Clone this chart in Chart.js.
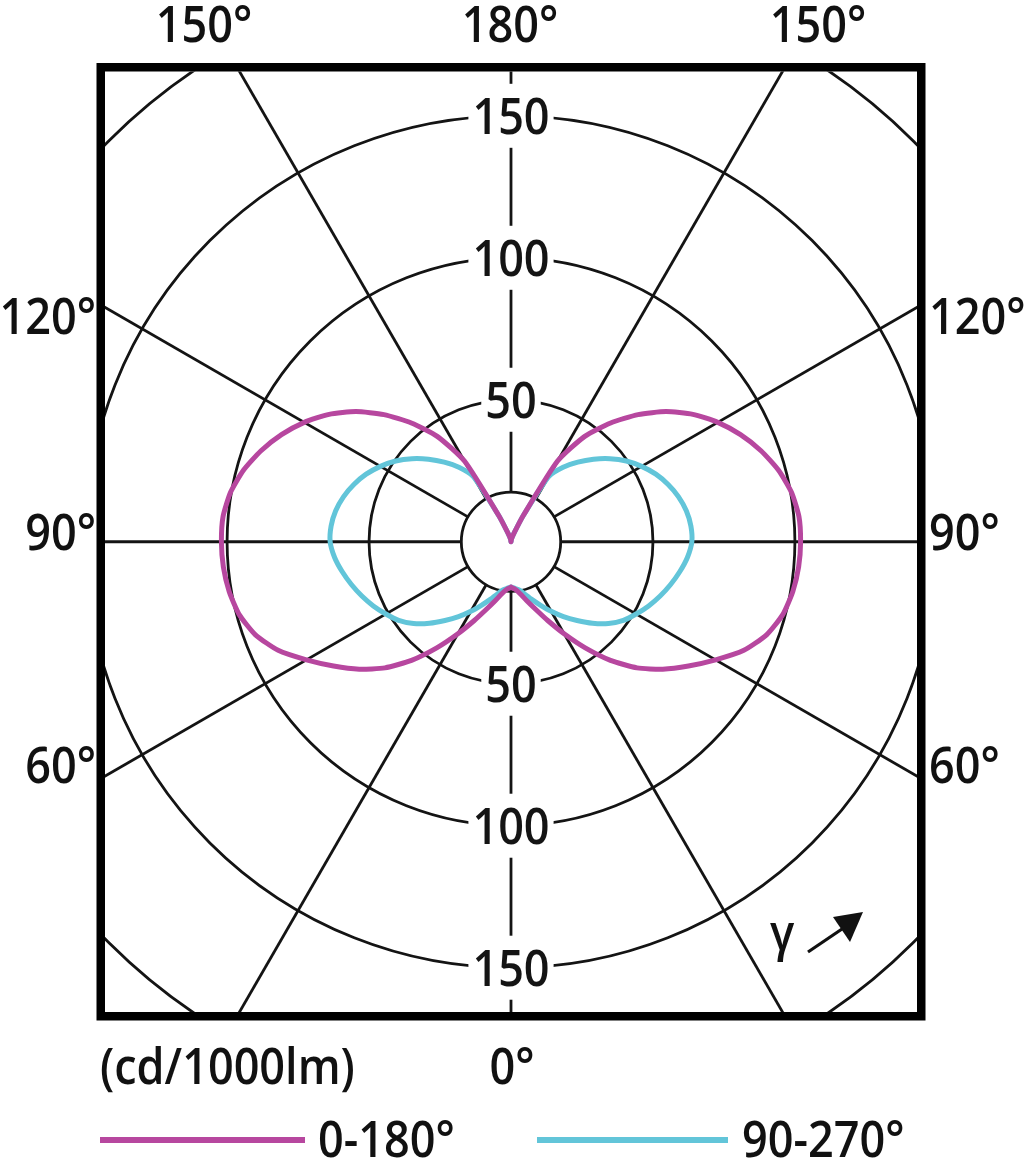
<!DOCTYPE html>
<html>
<head>
<meta charset="utf-8">
<title>Luminous intensity distribution</title>
<script src="https://cdn.jsdelivr.net/npm/chart.js@4.4.1/dist/chart.umd.min.js"></script>
<style>
  html, body { margin: 0; padding: 0; background: #fff; }
  canvas { display: block; }
</style>
</head>
<body>
<canvas id="polar" width="1024" height="1159"></canvas>
<script>
// gamma angle (0 = straight down, 180 = straight up), degrees
const gammaDeg = [0, 5, 10, 15, 20, 25, 30, 35, 40, 45, 50, 55, 60, 65, 70, 75, 80, 85, 90,
  95, 100, 105, 110, 115, 120, 125, 130, 135, 140, 145, 150, 155, 160, 170, 180];

// intensity in cd/1000lm
const plane0_180 = [16, 16.8, 18.6, 21.5, 25.3, 30.6, 37.4, 45.6, 54.5, 62.8, 69.8, 76.3, 83.2, 90.5, 95.8, 99.1, 100.8, 101.7, 102,
  101.8, 100.3, 97.5, 93.7, 89.2, 84.1, 78.2, 71.3, 63.3, 54.6, 45.3, 32.8, 10, 3.5, 1, 0];
const plane90_270 = [16, 16.5, 17.3, 19.2, 21.7, 24.7, 28.3, 32.2, 36.2, 40.6, 44.8, 48.3, 50.9, 53.5, 55.9, 58.2, 60.4, 62.4, 63.7,
  63.6, 62.7, 61.1, 58.9, 56.3, 53.1, 49.6, 45.5, 41.1, 36.6, 32, 26.5, 10, 3.5, 1, 0];

const seriesNames = ['0-180°', '90-270°'];
const ringValues = [50, 100, 150, 200];
const ringTicks = [50, 100, 150];
const spokeStep = 30;
const hubValue = 17.5;

const topTicks = ['150°', '180°', '150°'];
const sideTicks = ['120°', '90°', '60°'];
const bottomTick = '0°';
const unitLabel = '(cd/1000lm)';

const MAGENTA = '#b7479f';
const CYAN = '#62c5d9';
const INK = '#141414';
const FONT = '600 50px "Open Sans"';
const SQUEEZE = 0.9;

// polar -> cartesian, left half goes 0..180, right half comes back 180..0
function toPoints(values) {
  const left = gammaDeg.map((g, i) => {
    const t = g * Math.PI / 180;
    return { x: -values[i] * Math.sin(t), y: -values[i] * Math.cos(t) };
  });
  const right = gammaDeg.slice().reverse().map((g, j) => {
    const i = gammaDeg.length - 1 - j;
    const t = g * Math.PI / 180;
    return { x: values[i] * Math.sin(t), y: -values[i] * Math.cos(t) };
  });
  return left.concat(right);
}

function drawText(ctx, str, x, y, align) {
  ctx.save();
  ctx.translate(x, y);
  ctx.scale(SQUEEZE, 1);
  ctx.textAlign = align || 'left';
  ctx.textBaseline = 'alphabetic';
  ctx.fillText(str, 0, 0);
  ctx.restore();
}

function textWidth(ctx, str) {
  return ctx.measureText(str).width * SQUEEZE;
}

const polarGrid = {
  id: 'polarGrid',
  beforeDatasetsDraw(chart) {
    const { ctx, chartArea: a, scales: { x, y } } = chart;
    const cx = x.getPixelForValue(0);
    const cy = y.getPixelForValue(0);
    const k = x.getPixelForValue(1) - cx;

    ctx.save();
    ctx.beginPath();
    ctx.rect(a.left, a.top, a.right - a.left, a.bottom - a.top);
    ctx.clip();
    ctx.strokeStyle = INK;
    ctx.lineWidth = 2.8;

    for (let g = 0; g < 360; g += spokeStep) {
      const t = g * Math.PI / 180;
      const dx = Math.sin(t), dy = Math.cos(t);
      ctx.beginPath();
      ctx.moveTo(cx + dx * hubValue * k, cy + dy * hubValue * k);
      ctx.lineTo(cx + dx * 400 * k, cy + dy * 400 * k);
      ctx.stroke();
    }
    ringValues.concat([hubValue]).forEach(r => {
      ctx.beginPath();
      ctx.arc(cx, cy, r * k, 0, Math.PI * 2);
      ctx.stroke();
    });

    // value labels on the vertical axis, on white boxes
    ctx.font = FONT;
    ringTicks.forEach(v => {
      const label = String(v);
      const w = textWidth(ctx, label) + 8;
      [y.getPixelForValue(v), y.getPixelForValue(-v)].forEach(py => {
        ctx.fillStyle = '#fff';
        ctx.fillRect(cx - w / 2, py - 32, w, 64);
        ctx.fillStyle = INK;
        drawText(ctx, label, cx, py + 18, 'center');
      });
    });
    ctx.restore();
  },
  afterDraw(chart) {
    const { ctx, chartArea: a } = chart;
    ctx.save();

    // frame
    ctx.strokeStyle = '#000';
    ctx.lineWidth = 8.5;
    ctx.strokeRect(a.left - 4.25, a.top - 4.25, a.right - a.left + 8.5, a.bottom - a.top + 8.5);

    ctx.font = FONT;
    ctx.fillStyle = '#111';
    const topX = [204, 510, 818];
    topTicks.forEach((t, i) => drawText(ctx, t, topX[i], 42, 'center'));
    const sideY = [334, 550, 783];
    sideTicks.forEach((t, i) => {
      drawText(ctx, t, 96, sideY[i], 'right');
      drawText(ctx, t, 929, sideY[i], 'left');
    });
    drawText(ctx, unitLabel, 100, 1084, 'left');
    drawText(ctx, bottomTick, 512, 1084, 'center');

    // gamma direction mark
    drawText(ctx, 'γ', 770, 950, 'left');
    ctx.strokeStyle = '#111';
    ctx.lineWidth = 3.2;
    ctx.beginPath();
    ctx.moveTo(808, 952);
    ctx.lineTo(842, 929);
    ctx.stroke();
    ctx.beginPath();
    ctx.moveTo(833, 917);
    ctx.lineTo(863, 912);
    ctx.lineTo(850, 942);
    ctx.closePath();
    ctx.fill();

    // legend
    const legendX = [[100, 305, 318], [537, 728, 742]];
    chart.data.datasets.forEach((ds, i) => {
      const [x0, x1, tx] = legendX[i];
      ctx.strokeStyle = ds.borderColor;
      ctx.lineWidth = 6;
      ctx.beginPath();
      ctx.moveTo(x0, 1140);
      ctx.lineTo(x1, 1140);
      ctx.stroke();
      ctx.fillStyle = '#111';
      drawText(ctx, ds.label, tx, 1157, 'left');
    });
    ctx.restore();
  }
};

new Chart(document.getElementById('polar'), {
  type: 'scatter',
  data: {
    datasets: [
      { label: seriesNames[0], data: toPoints(plane0_180), borderColor: MAGENTA, order: 1 },
      { label: seriesNames[1], data: toPoints(plane90_270), borderColor: CYAN, order: 2 }
    ].map(ds => Object.assign(ds, {
      showLine: true, borderWidth: 5, pointRadius: 0, tension: 0.2, fill: false,
      borderJoinStyle: 'round', borderCapStyle: 'round'
    }))
  },
  options: {
    responsive: false,
    animation: false,
    devicePixelRatio: 1,
    layout: { padding: { left: 105, right: 107, top: 71.5, bottom: 147 } },
    scales: {
      x: { type: 'linear', min: -143, max: 143, display: false },
      y: { type: 'linear', min: -165.6, max: 165.6, display: false }
    },
    plugins: { legend: { display: false }, tooltip: { enabled: false } }
  },
  plugins: [polarGrid]
});
</script>
</body>
</html>
